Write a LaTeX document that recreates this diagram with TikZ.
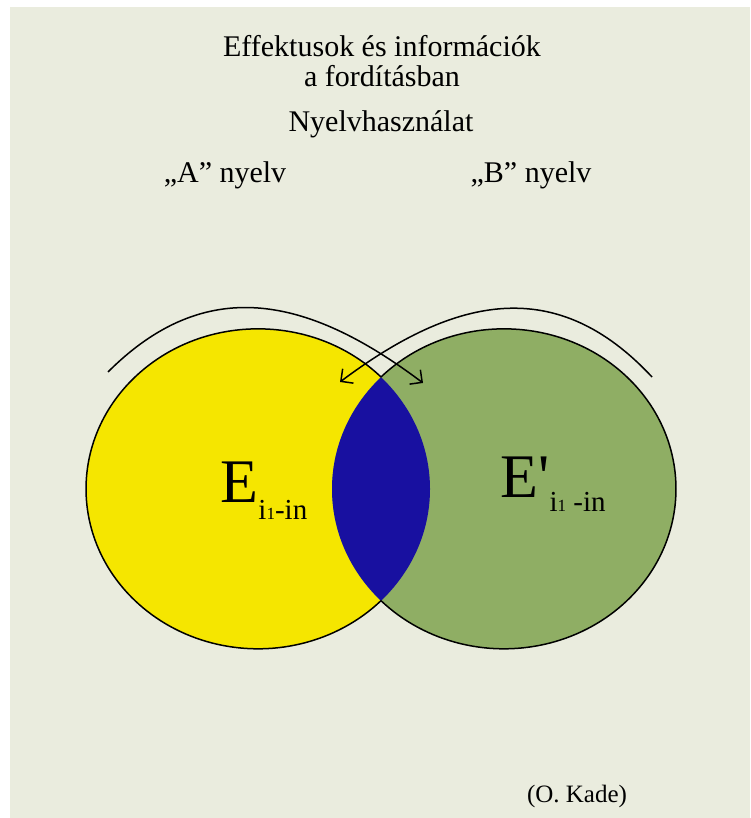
\documentclass[tikz,border=0pt]{standalone}
\usepackage{fontspec}
\setmainfont{Liberation Serif}
\newfontfamily\rawserif[Ligatures=TeXOff]{Liberation Serif}
\usetikzlibrary{arrows.meta}
\definecolor{cream}{RGB}{234,236,222}
\definecolor{vyellow}{RGB}{245,230,0}
\definecolor{vgreen}{RGB}{143,174,100}
\definecolor{vblue}{RGB}{24,16,160}
\tikzset{
  outlinestyle/.style={draw=black, line width=1.5pt},
  arcarrow/.style={draw=black, line width=1.5pt, -{Straight Barb[length=9pt,width=18pt,line width=1.5pt]}},
  txtstyle/.style={anchor=base, inner sep=0pt, font=\fontsize{30}{30}\selectfont},
  smalltxt/.style={anchor=base, inner sep=0pt, font=\fontsize{25}{25}\selectfont}
}
\begin{document}
\begin{tikzpicture}[x=1pt,y=1pt]
\useasboundingbox (0,0) rectangle (750,818);
\fill[white] (0,0) rectangle (750,818);
\fill[cream] (10,0) rectangle (750,811);
% ellipses
\fill[vyellow] (258,329) ellipse [x radius=172, y radius=160];
\fill[vgreen] (504,329) ellipse [x radius=172, y radius=160];
\begin{scope}
  \clip (258,329) ellipse [x radius=172, y radius=160];
  \fill[vblue] (504,329) ellipse [x radius=172, y radius=160];
\end{scope}
\coordinate (top) at (381,441);
\draw[outlinestyle] (top) arc[start angle=44.35, end angle=315.65, x radius=172, y radius=160];
\draw[outlinestyle] (top) arc[start angle=135.65, end angle=-135.65, x radius=172, y radius=160];
% arcs with arrows
\coordinate (la) at (108,446);
\coordinate (lb) at (423,435);
\coordinate (ra) at (652,441);
\coordinate (rb) at (340,436);
\draw[arcarrow] (la) .. controls (205,543) and (306,523) .. (lb);
\draw[arcarrow] (ra) .. controls (557,543) and (456,523) .. (rb);
% texts
\node[txtstyle] (t1) at (382,761) {Effektusok és információk};
\node[txtstyle] (t2) at (382,731) {a fordításban};
\node[txtstyle] (t3) at (381,686) {Nyelvhasználat};
\node[txtstyle] (la1) at (225,635) {„A” nyelv};
\node[txtstyle] (lb1) at (531,635) {„B” nyelv};
\node[smalltxt] (kade) at (577,15) {(O. Kade)};
% labels
\node[anchor=base west, inner sep=0pt, font=\fontsize{62}{62}\selectfont] (el) at (220,315) {E};
\node[anchor=base west, inner sep=0pt, font=\fontsize{29}{29}\selectfont] (els) at ([yshift=-17pt]el.base east) {i{\fontsize{17}{17}\selectfont 1}-in};
\node[anchor=base west, inner sep=0pt, font=\fontsize{62}{62}\selectfont\rawserif] (er) at (500,320) {E'};
\node[anchor=base west, inner sep=0pt, font=\fontsize{29}{29}\selectfont] (ers) at ([yshift=-14pt]er.base east) {i{\fontsize{17}{17}\selectfont 1} -in};
\end{tikzpicture}
\end{document}
